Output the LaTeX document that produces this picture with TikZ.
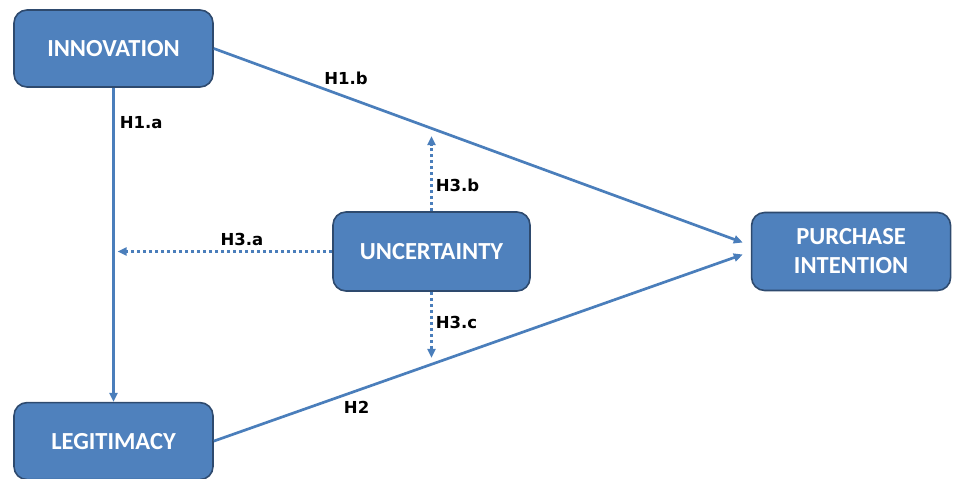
\documentclass[tikz,border=0pt]{standalone}
\usepackage{fontspec}
\setmainfont{Carlito}
\newfontfamily\hypfont{DejaVu Sans}
\usepackage{xcolor}
\usepackage{tikz}
\usetikzlibrary{arrows.meta,positioning,calc}
\definecolor{boxblue}{HTML}{4F81BD}
\definecolor{boxedge}{HTML}{2E4A6E}
\definecolor{linkblue}{HTML}{4A7EBB}

\begin{document}
\begin{tikzpicture}[>={Triangle[length=9pt,width=8pt]},node distance=1.3cm]
  \tikzstyle{construct}=[draw=boxedge,line width=1.6pt,fill=boxblue,rounded corners=13pt,align=center,
    minimum width=199pt,minimum height=77pt,text=white,font=\bfseries\fontsize{24.5}{29}\selectfont]
  \tikzstyle{link}=[->,linkblue,line width=2.7pt]
  \tikzstyle{modlink}=[->,linkblue,line width=2.8pt,dash pattern=on 2.8pt off 3.2pt]
  \tikzstyle{hyp}=[font=\hypfont\bfseries\fontsize{16.5}{18}\selectfont,text=black,inner sep=2pt]
  \useasboundingbox (0,0) rectangle (954pt,-479pt);
  \node[construct] (inn) at (113.5pt,-48.5pt) {INNOVATION};
  \node[construct,below=314pt of inn] (leg) {LEGITIMACY};
  \node[construct,minimum width=197pt,minimum height=79pt] (unc) at (431.5pt,-251.5pt) {UNCERTAINTY};
  \node[construct,right=220pt of unc,minimum width=199pt,minimum height=78pt] (pi) {PURCHASE\\INTENTION};
  % arrow ends
  \coordinate (tipb) at ($(pi.west)+(-8pt,9pt)$);
  \coordinate (tipc) at ($(pi.west)+(-8pt,-3pt)$);
  \coordinate (tipa) at ($(inn.south |- unc.west)+(4pt,0)$);
  \coordinate (up) at ($(unc.north)+(0,75pt)$);
  \coordinate (down) at ($(unc.south)+(0,-66pt)$);
  \draw[link] (inn.south) -- node[hyp,pos=0.11,right=3pt] {H1.a} (leg.north);
  \draw[link] (inn.east) -- node[hyp,pos=0.25,above=9pt] {H1.b} (tipb);
  \draw[link] (leg.east) -- node[hyp,pos=0.27,below=7pt] {H2} (tipc);
  \draw[modlink] (unc.west) -- node[hyp,pos=0.42,above=2pt] {H3.a} (tipa);
  \draw[modlink] (unc.north) -- node[hyp,pos=0.35,right=1pt] {H3.b} (up);
  \draw[modlink] (unc.south) -- node[hyp,pos=0.47,right=1pt] {H3.c} (down);
\end{tikzpicture}
\end{document}
